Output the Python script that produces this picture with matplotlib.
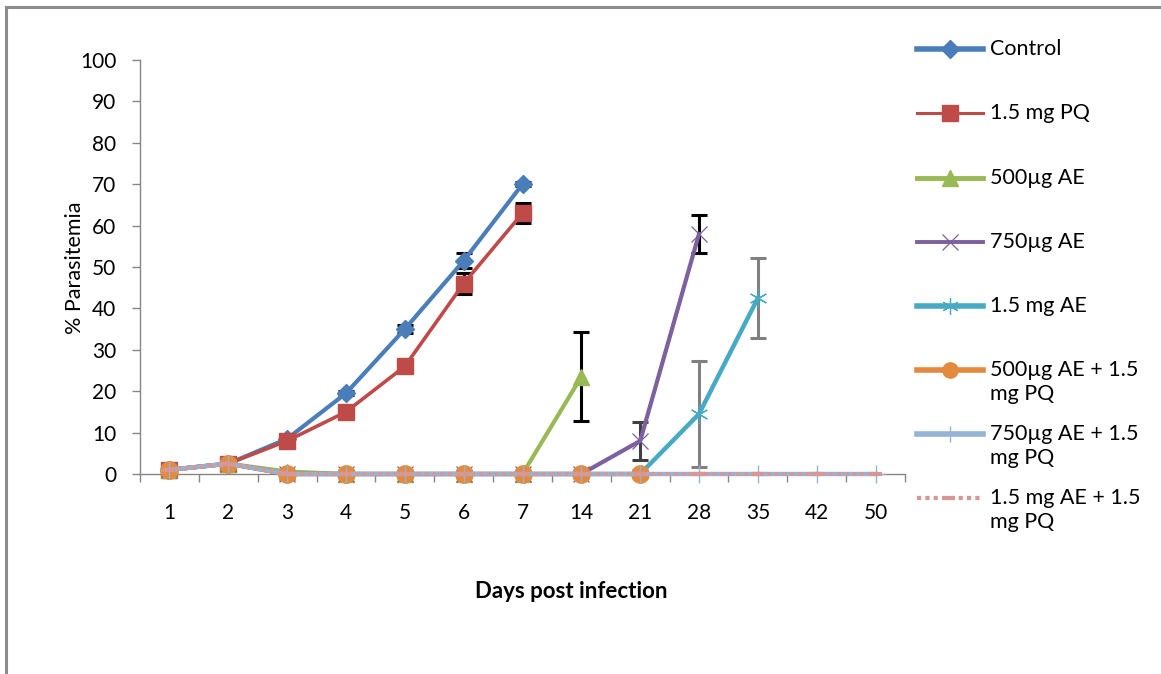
import matplotlib
matplotlib.use("Agg")
import matplotlib.pyplot as plt
import numpy as np
from matplotlib.lines import Line2D

plt.rcParams['font.family'] = ['Lato', 'DejaVu Sans']

days = ["1", "2", "3", "4", "5", "6", "7", "14", "21", "28", "35", "42", "50"]

control = [1, 2.5, 8.5, 19.5, 35, 51.5, 70]
control_err = [0, 0, 0, 0.5, 1.0, 1.8, 0.5]
pq = [1, 2.5, 8, 15, 26, 46, 63]
pq_err = [0, 0, 0, 0, 0, 2.5, 2.4]
ae500 = [1, 2.5, 0.6, 0, 0, 0, 0, 23.5]
ae500_err = [0, 0, 0, 0, 0, 0, 0, 10.8]
ae750 = [1, 2.5, 0, 0, 0, 0, 0, 0, 8, 58]
ae750_err = [0, 0, 0, 0, 0, 0, 0, 0, 4.5, 4.6]
ae1500 = [1, 2.5, 0, 0, 0, 0, 0, 0, 0, 14.5, 42.5]
ae1500_err = [0, 0, 0, 0, 0, 0, 0, 0, 0, 12.7, 9.7]
ae500_pq = [1, 2.5, 0, 0, 0, 0, 0, 0, 0]
ae750_pq = [1, 2.5, 0, 0, 0, 0, 0, 0, 0, 0, 0, 0, 0]
ae1500_pq = [1, 2.5, 0, 0, 0, 0, 0, 0, 0, 0, 0, 0, 0]

labels = ["Control", "1.5 mg PQ", "500µg AE", "750µg AE", "1.5 mg AE",
          "500µg AE + 1.5\nmg PQ", "750µg AE + 1.5\nmg PQ", "1.5 mg AE + 1.5\nmg PQ"]

fig = plt.figure(figsize=(11.61, 6.74), dpi=100)
W, H = 1161, 674
ax = fig.add_axes([140 / W, 1 - 474 / H, 765 / W, 414 / H])

styles = [
    dict(color="#4A7EBB", lw=3.0, marker="D", ms=9, mec="#4A7EBB"),
    dict(color="#BE4B48", lw=2.6, marker="s", ms=12, mec="#BE4B48"),
    dict(color="#98B954", lw=3.0, marker="^", ms=12, mec="#98B954"),
    dict(color="#7D60A0", lw=3.0, marker="x", ms=12, mec="#7D60A0", mew=0.9),
    dict(color="#46AAC5", lw=3.2, marker=(6, 2, 0), ms=13, mec="#46AAC5", mew=0.9),
    dict(color="#E48A3E", lw=3.0, marker="o", ms=12.5, mec="#E48A3E"),
    dict(color="#95B3D7", lw=3.2, marker="+", ms=13, mec="#95B3D7", mew=1.0),
    dict(color="#D99694", lw=2.8, ls=(0, (1.0, 1.0)), marker="_", ms=8, mec="#D99694", mew=3),
]

series = [(control, control_err), (pq, pq_err), (ae500, ae500_err), (ae750, ae750_err),
          (ae1500, ae1500_err), (ae500_pq, None), (ae750_pq, None), (ae1500_pq, None)]
ecolors = ["black", "black", "black", "black", "#808080", None, None, None]

for i, ((vals, err), st) in enumerate(zip(series, styles)):
    x = np.arange(len(vals))
    ax.plot(x, vals, zorder=3 + i, clip_on=False, **st)
    if err is not None:
        e = np.array(err)
        for j in np.where(e > 0)[0]:
            c = ecolors[i]
            if i == 3 and j == 8:
                c = "#404040"
            ax.errorbar([x[j]], [vals[j]], yerr=[[e[j]], [e[j]]], fmt="none",
                        ecolor=c, elinewidth=2.2, capsize=5.5, capthick=2.2, zorder=2.5 + i)

ax.set_xlim(-0.5, 12.5)
ax.set_ylim(0, 100)
ax.set_yticks(np.arange(0, 101, 10))
ax.set_xticks(np.arange(-0.5, 12.6, 1))
ax.set_xticklabels([])
ax.set_xticks(np.arange(13), minor=True)
ax.set_xticklabels(days, minor=True)
ax.tick_params(axis="x", which="major", direction="out", length=6, color="#868686", width=1)
ax.tick_params(axis="x", which="minor", length=0, pad=21, labelsize=15)
ax.tick_params(axis="y", direction="out", length=6, color="#868686", width=1, labelsize=15, pad=11)
for s in ["top", "right"]:
    ax.spines[s].set_visible(False)
for s in ["left", "bottom"]:
    ax.spines[s].set_color("#868686")
    ax.spines[s].set_linewidth(1)

fig.text(75 / W, 1 - 268 / H, "% Parasitemia", rotation=90, ha="center", va="center", fontsize=15.5)
fig.text(571 / W, 1 - 591 / H, "Days post infection", ha="center", va="center",
         fontsize=16, fontweight="bold")

# legend drawn manually
leg_y = [49, 113, 178, 242, 306, 370, 434, 498]
leg_lw = [4.0, 2.2, 3.5, 2.8, 4.0, 4.0, 4.0, 3.0]
leg_ms = [9, 11, 11, 11, 12, 11, 12, 7]
for k, (lbl, st, yy) in enumerate(zip(labels, styles, leg_y)):
    yf = 1 - yy / H
    ls = st.get("ls", "-")
    line = Line2D([917 / W, 983 / W], [yf, yf], transform=fig.transFigure,
                  color=st["color"], lw=leg_lw[k], ls=ls)
    fig.add_artist(line)
    mk = Line2D([950 / W], [yf], transform=fig.transFigure, linestyle="none",
                marker=st["marker"], ms=leg_ms[k], mec=st["mec"], mfc=st["color"],
                mew=st.get("mew", 1))
    fig.add_artist(mk)
    parts = lbl.split("\n")
    fig.text(990 / W, yf, parts[0], ha="left", va="center", fontsize=15.5)
    if len(parts) > 1:
        fig.text(990 / W, 1 - (yy + 24) / H, parts[1], ha="left", va="center", fontsize=15.5)

# outer frame
fig.add_artist(Line2D([5.5 / W, 5.5 / W], [0, 1 - 7 / H], transform=fig.transFigure,
                      color="#8C8C8C", lw=2.2))
fig.add_artist(Line2D([5.5 / W, 1], [1 - 7 / H, 1 - 7 / H], transform=fig.transFigure,
                      color="#8C8C8C", lw=2.2))

fig.savefig("out.png", dpi=100)
